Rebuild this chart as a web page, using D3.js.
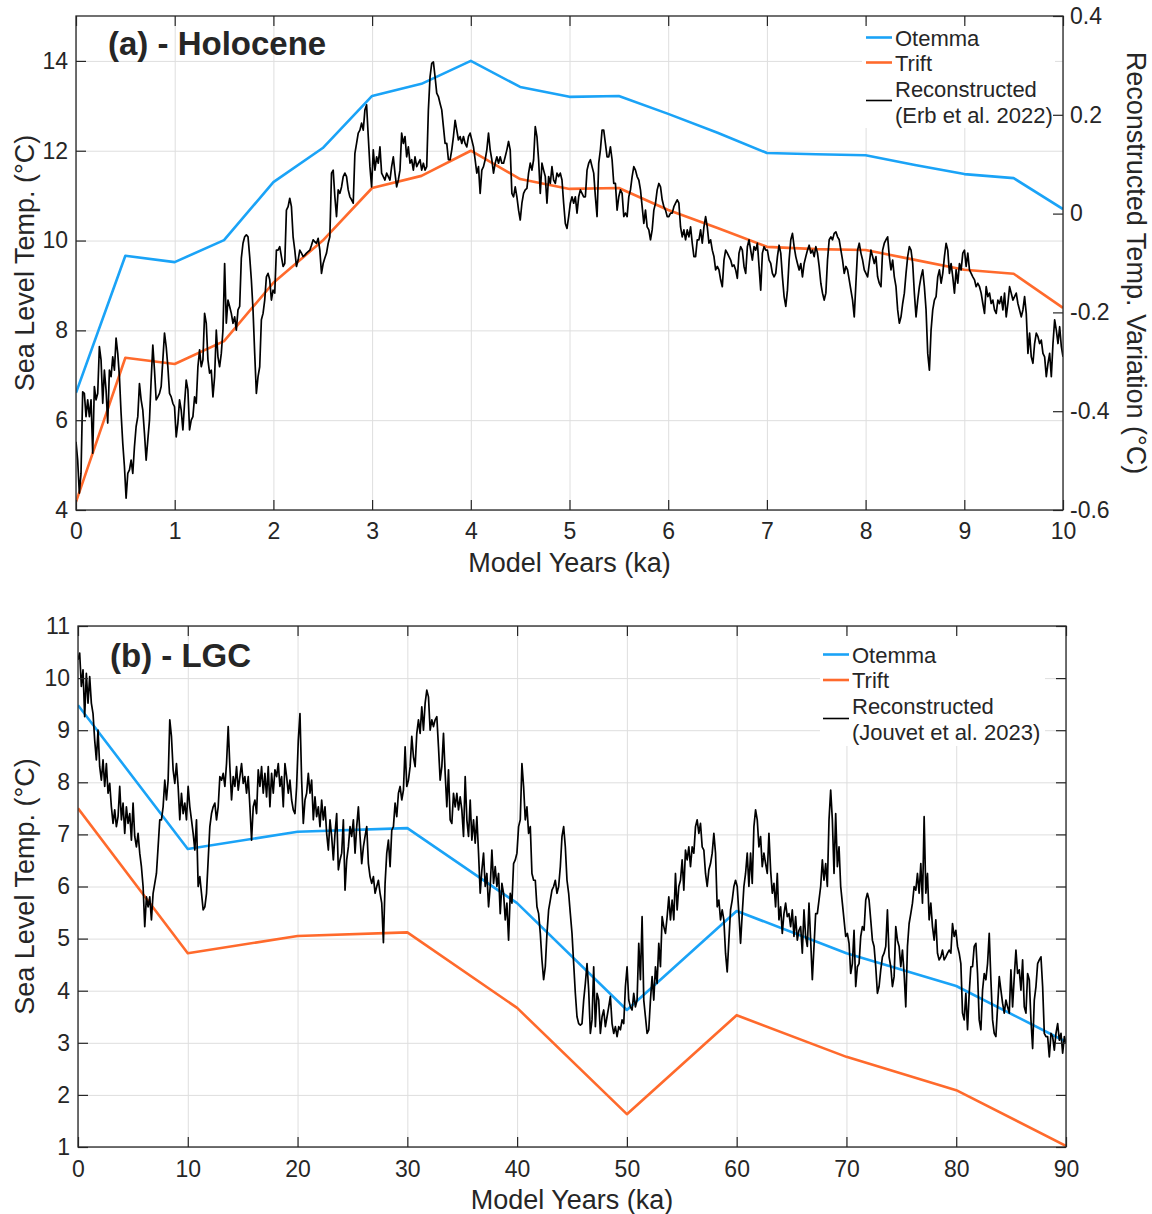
<!DOCTYPE html>
<html><head><meta charset="utf-8">
<script src="https://cdn.jsdelivr.net/npm/d3@7"></script>
<style>
body{margin:0;background:#fff}
text{font-family:"Liberation Sans",Arial,sans-serif;fill:#262626}
</style>
</head><body>
<svg id="c" width="1152" height="1214" xmlns="http://www.w3.org/2000/svg"></svg>
<script>
// ---------------- DATA ----------------
// (a) Holocene
const holoModelYears = [0,0.5,1,1.5,2,2.5,3,3.5,4,4.5,5,5.5,6,6.5,7,7.5,8,8.5,9,9.5,10];
const holoOtemma = [6.61,9.66,9.52,10.01,11.30,12.06,13.22,13.49,14.0,13.42,13.2,13.22,12.82,12.4,11.95,11.92,11.9,11.68,11.48,11.39,10.7];
const holoTrift  = [4.18,7.39,7.25,7.76,9.06,10.0,11.17,11.44,12.0,11.37,11.15,11.17,10.68,10.28,9.86,9.81,9.79,9.57,9.35,9.26,8.5];
// Reconstructed temperature variation (°C, right axis), evenly sampled over 0–10 ka
const holoRecon = [
-0.462,-0.499,-0.566,-0.526,-0.361,-0.364,-0.411,-0.377,-0.411,-0.377,
-0.485,-0.350,-0.377,-0.364,-0.269,-0.296,-0.384,-0.317,-0.357,-0.424,
-0.317,-0.330,-0.290,-0.317,-0.252,-0.283,-0.330,-0.404,-0.465,-0.512,
-0.576,-0.526,-0.519,-0.499,-0.526,-0.472,-0.431,-0.411,-0.344,-0.377,
-0.398,-0.445,-0.499,-0.458,-0.418,-0.337,-0.266,-0.317,-0.377,-0.371,
-0.364,-0.350,-0.296,-0.242,-0.269,-0.310,-0.364,-0.371,-0.384,-0.391,
-0.452,-0.424,-0.377,-0.398,-0.438,-0.384,-0.337,-0.357,-0.438,-0.418,
-0.411,-0.371,-0.384,-0.310,-0.276,-0.310,-0.296,-0.202,-0.222,-0.296,
-0.323,-0.317,-0.371,-0.330,-0.236,-0.290,-0.310,-0.283,-0.236,-0.101,
-0.222,-0.175,-0.188,-0.202,-0.222,-0.209,-0.236,-0.195,-0.188,-0.090,
-0.060,-0.047,-0.043,-0.047,-0.087,-0.134,-0.195,-0.283,-0.364,-0.330,
-0.310,-0.215,-0.202,-0.175,-0.128,-0.121,-0.134,-0.175,-0.155,-0.161,
-0.074,-0.074,-0.067,-0.087,-0.107,-0.101,0.007,0.014,0.031,0.014,
-0.047,-0.074,-0.107,-0.094,-0.074,-0.080,-0.087,-0.084,-0.080,-0.077,
-0.074,-0.064,-0.053,-0.057,-0.060,-0.050,-0.074,-0.121,-0.101,-0.090,
-0.080,-0.060,-0.047,0.082,0.088,0.034,-0.006,0.048,0.041,0.054,
0.075,0.082,0.075,0.048,0.034,0.028,0.021,0.122,0.142,0.163,
0.169,0.183,0.169,0.210,0.220,0.156,0.095,0.054,0.129,0.088,
0.115,0.102,0.135,0.082,0.075,0.068,0.082,0.075,0.068,0.095,
0.115,0.082,0.054,0.068,0.088,0.163,0.142,0.156,0.115,0.135,
0.102,0.109,0.088,0.115,0.095,0.102,0.109,0.088,0.102,0.088,
0.095,0.210,0.277,0.304,0.307,0.277,0.244,0.237,0.223,0.210,
0.176,0.142,0.142,0.109,0.109,0.129,0.156,0.189,0.169,0.149,
0.156,0.142,0.156,0.142,0.135,0.156,0.163,
0.149,0.135,0.109,0.082,0.095,0.041,0.088,0.095,0.109,0.129,
0.163,0.129,0.109,0.082,0.102,0.115,0.102,0.115,0.102,0.102,
0.115,0.129,0.146,0.129,0.041,0.034,0.054,0.034,0.007,-0.013,
0.021,0.041,0.048,0.051,0.082,0.102,0.088,0.109,0.176,0.156,
0.109,0.041,0.102,0.088,0.075,0.021,0.075,0.061,0.095,0.068,
0.061,0.082,0.075,0.082,0.068,0.021,-0.020,-0.030,-0.006,0.021,
0.034,0.021,0.034,0.001,0.034,0.048,0.041,0.034,0.034,0.088,
0.102,0.109,0.095,0.082,0.034,-0.006,0.102,0.129,0.169,0.169,
0.142,0.115,0.115,0.135,0.109,0.061,0.061,0.007,0.034,0.048,
0.041,-0.006,0.001,-0.006,0.034,0.048,0.075,0.095,0.088,0.075,
0.068,0.048,0.014,-0.020,0.007,-0.027,-0.033,-0.053,-0.033,0.007,
0.021,0.048,0.061,0.054,0.028,0.014,0.007,-0.006,-0.006,0.001,
0.001,0.014,0.021,0.028,0.021,-0.027,-0.047,-0.033,-0.053,-0.033,
-0.047,-0.027,-0.060,-0.087,-0.087,-0.053,-0.053,-0.033,-0.060,-0.027,
-0.006,-0.027,-0.060,-0.053,-0.074,-0.087,-0.114,-0.107,-0.114,-0.134,
-0.148,-0.094,-0.074,-0.080,-0.087,-0.094,-0.107,-0.104,-0.114,-0.131,
-0.080,-0.067,-0.074,-0.107,-0.121,-0.067,-0.053,-0.074,-0.094,-0.067,
-0.074,-0.060,-0.107,-0.155,-0.080,-0.067,-0.074,-0.074,-0.094,-0.101,
-0.121,-0.128,-0.121,-0.087,-0.064,-0.080,-0.128,-0.168,-0.188,-0.155,
-0.094,-0.053,-0.040,-0.067,-0.087,-0.101,-0.114,-0.101,-0.128,-0.101,
-0.087,-0.074,-0.064,-0.080,-0.074,-0.087,-0.067,-0.080,-0.107,-0.141,
-0.161,-0.175,-0.161,-0.094,-0.053,-0.047,-0.053,-0.040,-0.037,-0.047,
-0.053,-0.074,-0.094,-0.121,-0.107,-0.114,-0.134,-0.155,-0.175,-0.209,
-0.141,-0.074,-0.060,-0.080,
-0.094,-0.114,-0.121,-0.128,-0.101,-0.074,-0.087,-0.101,-0.087,-0.128,
-0.141,-0.148,-0.074,-0.060,-0.053,-0.047,-0.087,-0.114,-0.094,-0.128,
-0.148,-0.195,-0.222,-0.209,-0.182,-0.161,-0.121,-0.087,-0.067,-0.074,
-0.101,-0.161,-0.209,-0.175,-0.148,-0.128,-0.114,-0.148,-0.195,-0.283,
-0.317,-0.236,-0.195,-0.175,-0.168,-0.128,-0.114,-0.141,-0.121,-0.087,
-0.060,-0.074,-0.121,-0.101,-0.128,-0.161,-0.114,-0.141,-0.101,-0.114,
-0.080,-0.074,-0.107,-0.080,-0.114,-0.121,-0.128,-0.134,-0.148,-0.141,
-0.148,-0.161,-0.182,-0.202,-0.148,-0.168,-0.161,-0.182,-0.175,-0.195,
-0.202,-0.175,-0.182,-0.168,-0.195,-0.161,-0.209,-0.182,-0.148,-0.161,
-0.175,-0.168,-0.161,-0.182,-0.195,-0.209,-0.195,-0.168,-0.202,-0.283,
-0.242,-0.290,-0.303,-0.263,-0.242,-0.249,-0.263,-0.256,-0.283,-0.290,
-0.330,-0.303,-0.283,-0.330,-0.263,-0.215,-0.236,-0.263,-0.229,-0.269,
-0.290];
const holoXTicks = [0,1,2,3,4,5,6,7,8,9,10];
const holoYTicks = [4,6,8,10,12,14];
const holoY2Ticks = [-0.6,-0.4,-0.2,0,0.2,0.4];
const holoLegend = ["Otemma","Trift","Reconstructed","(Erb et al. 2022)"];

// (b) LGC
const lgcModelYears = [0,10,20,30,40,50,60,70,80,90];
const lgcOtemma = [9.48,6.72,7.05,7.12,5.68,3.63,5.53,4.72,4.09,3.02];
const lgcTrift  = [7.5,4.72,5.05,5.12,3.67,1.63,3.53,2.73,2.09,1.02];
// Reconstructed sea level temperature (°C), evenly sampled over 0–90 ka
const lgcRecon = [
10.35,10.48,9.84,10.16,9.26,10.09,9.52,10.03,9.52,9.32,
8.81,8.43,9.00,8.30,8.04,8.43,7.92,8.36,7.79,7.98,
7.53,7.21,7.47,7.15,7.34,7.92,7.28,7.60,7.02,7.53,
7.21,7.40,6.89,7.60,6.96,6.76,7.02,6.64,6.38,6.00,
5.23,5.80,5.61,5.80,5.36,5.87,6.06,6.25,6.76,7.28,
7.28,7.53,8.04,7.66,8.04,9.20,8.88,8.24,7.98,8.36,
7.92,7.28,7.79,7.40,7.60,7.28,7.92,7.53,7.28,7.02,
6.70,7.28,6.00,6.19,5.87,5.55,5.61,5.87,6.51,7.15,
7.40,7.53,7.60,7.28,7.53,8.11,8.04,8.17,7.92,8.36,
9.07,8.30,7.66,8.11,7.92,8.30,7.85,8.11,8.36,7.98,
8.11,7.79,8.11,7.53,6.89,7.53,7.66,7.40,8.24,7.92,
8.30,7.79,8.17,7.72,8.30,7.53,8.17,7.79,8.24,8.11,
8.36,7.92,8.11,7.53,8.36,8.11,7.79,8.04,7.66,7.47,
7.40,7.92,8.81,9.32,8.04,7.21,7.66,7.79,8.17,7.79,
8.04,7.28,7.72,7.34,7.53,7.15,7.66,7.28,7.53,7.02,
6.70,7.28,6.96,6.51,7.02,7.40,6.32,6.51,6.64,7.28,
5.93,6.51,6.76,7.15,6.96,7.28,6.64,7.15,7.53,6.96,
6.44,6.76,6.96,7.15,6.44,6.19,6.06,6.19,5.87,6.00,
6.12,5.87,5.68,4.92,6.06,6.64,6.89,6.38,7.08,7.15,
7.60,7.34,7.79,7.92,
7.66,7.85,8.68,7.92,8.04,8.30,8.88,8.49,8.30,8.94,
9.20,8.94,9.45,9.00,9.52,9.77,9.64,9.00,9.20,9.07,
9.20,9.26,8.68,8.04,8.30,8.94,8.17,7.53,8.24,7.28,
7.21,7.79,7.53,7.79,7.47,7.72,7.47,6.96,8.11,7.28,
6.96,7.66,6.89,7.28,6.83,7.34,6.64,5.87,6.32,6.64,
6.00,6.25,5.61,6.00,6.70,6.06,6.38,6.00,6.25,5.48,
6.06,5.87,5.36,5.68,4.97,5.87,5.68,6.44,6.51,6.64,
7.15,7.28,8.36,7.92,7.28,7.53,7.02,7.15,6.25,6.12,
6.12,5.61,5.48,5.10,4.59,4.21,4.46,5.10,5.55,5.74,
5.93,6.00,6.12,5.87,6.00,6.38,6.96,7.15,6.76,6.12,
5.87,5.48,5.10,4.52,3.95,3.50,3.37,3.34,3.37,3.82,
4.14,4.52,4.01,3.18,3.44,4.46,3.31,3.95,3.82,3.18,
3.50,3.63,3.31,3.50,3.69,3.89,3.37,3.18,3.31,3.12,
3.31,3.25,3.44,3.37,4.08,4.46,3.82,3.69,3.63,3.95,
3.69,3.82,4.91,4.21,5.42,3.82,3.50,3.18,3.25,3.82,
4.27,3.82,4.46,4.14,4.91,4.46,5.42,5.23,5.10,5.42,
5.80,5.36,5.74,5.36,6.25,5.55,6.00,6.12,6.51,5.93,
6.70,6.51,6.76,6.38,6.76,6.64,7.15,7.28,7.02,7.21,
6.76,6.70,6.25,6.00,6.32,6.44,6.64,7.02,6.64,5.61,
5.74,5.36,5.55,5.36,4.72,4.36,4.97,5.55,5.74,6.00,
6.12,6.00,5.48,4.91,5.48,6.00,6.25,6.64,6.00,6.64,
6.06,7.15,7.47,7.28,6.76,6.96,6.38,6.64,6.44,6.25,
7.02,6.32,5.87,6.06,5.61,6.25,5.36,5.61,5.10,5.48,
5.68,5.42,5.48,5.23,5.55,5.04,5.42,4.97,5.16,5.23,
4.72,5.55,5.04,4.85,5.68,4.97,4.21,4.85,5.48,5.48,
5.74,6.00,6.51,6.12,6.44,6.00,7.28,7.85,7.28,6.25,
7.40,6.38,6.76,6.00,5.68,5.36,5.04,5.10,4.91,4.33,
4.52,5.16,4.08,4.46,4.52,5.04,5.23,5.16,5.74,5.87,
5.74,5.36,4.97,4.85,4.46,3.95,4.08,4.40,4.65,4.72,
4.85,5.55,4.65,4.46,4.08,4.27,5.23,4.97,4.85,4.46,
4.78,4.33,3.69,4.85,5.29,5.48,5.68,6.00,5.93,6.25,
5.87,6.44,5.68,7.34,5.87,6.25,5.36,5.68,5.23,4.97,
5.36,4.72,4.59,4.65,4.78,4.59,4.65,4.72,4.78,4.72,
5.29,5.04,5.16,4.85,4.72,4.52,3.57,3.44,3.95,3.25,
3.95,4.46,4.46,4.85,4.91,4.33,3.44,3.25,4.01,4.33,
4.21,4.52,5.10,4.21,3.44,3.18,3.12,3.69,4.27,4.01,
3.76,3.57,3.82,3.69,3.57,4.40,3.69,4.27,4.78,4.33,
4.40,4.01,4.59,3.69,3.57,4.33,4.21,3.44,2.89,3.82,
4.08,4.52,4.59,4.65,4.08,3.18,3.12,3.12,2.73,3.18,
3.12,2.86,3.18,3.37,3.05,3.18,2.80,3.12,2.99];
const lgcXTicks = [0,10,20,30,40,50,60,70,80,90];
const lgcYTicks = [1,2,3,4,5,6,7,8,9,10,11];
const lgcLegend = ["Otemma","Trift","Reconstructed","(Jouvet et al. 2023)"];

// ---------------- STYLE ----------------
const BLUE = "#1aa3f7", ORANGE = "#ff6a2c", BLACK = "#000000";
const AXIS = "#262626", GRID = "#dedede";
const TICK_FS = 23, TITLE_FS = 27, LEG_FS = 22;

const svg = d3.select("#c");
svg.append("rect").attr("width",1152).attr("height",1214).attr("fill","#fff");

function fmt(d){ return String(+d.toFixed(2)); }

function drawPanel(p) {
  const g = svg.append("g");
  const W = p.right - p.left, H = p.bottom - p.top;
  const x = d3.scaleLinear().domain(p.xDomain).range([p.left, p.right]);
  const y = d3.scaleLinear().domain(p.yDomain).range([p.bottom, p.top]);
  const y2 = p.y2Domain ? d3.scaleLinear().domain(p.y2Domain).range([p.bottom, p.top]) : null;

  // grid
  g.append("g").attr("transform",`translate(0,${p.bottom})`)
    .call(d3.axisBottom(x).tickValues(p.xTicks).tickSize(-H).tickFormat(""))
    .call(a => { a.select(".domain").remove(); a.selectAll("line").attr("stroke",GRID).attr("stroke-width",1); });
  g.append("g").attr("transform",`translate(${p.left},0)`)
    .call(d3.axisLeft(y).tickValues(p.yTicks).tickSize(-W).tickFormat(""))
    .call(a => { a.select(".domain").remove(); a.selectAll("line").attr("stroke",GRID).attr("stroke-width",1); });

  // clip
  svg.append("clipPath").attr("id", p.id+"clip").append("rect")
    .attr("x",p.left).attr("y",p.top).attr("width",W).attr("height",H);
  const plot = g.append("g").attr("clip-path",`url(#${p.id}clip)`);

  const line = (ys) => d3.line().x(d => x(d[0])).y(d => ys(d[1]));
  const zip = (xs, vs) => xs.map((v,i) => [v, vs[i]]);

  plot.append("path").datum(zip(p.years, p.otemma)).attr("d", line(y))
    .attr("fill","none").attr("stroke",BLUE).attr("stroke-width",2.6).attr("stroke-linejoin","round");
  plot.append("path").datum(zip(p.years, p.trift)).attr("d", line(y))
    .attr("fill","none").attr("stroke",ORANGE).attr("stroke-width",2.6).attr("stroke-linejoin","round");
  const n = p.recon.length;
  const reconYears = p.recon.map((_, i) => p.xDomain[0] + i * (p.xDomain[1]-p.xDomain[0]) / (n-1));
  plot.append("path").datum(zip(reconYears, p.recon)).attr("d", line(p.reconOnRight ? y2 : y))
    .attr("fill","none").attr("stroke",BLACK).attr("stroke-width",1.7).attr("stroke-linejoin","round");

  // legend
  const L = p.legend;
  g.append("rect").attr("x",L.x).attr("y",L.y).attr("width",L.w).attr("height",L.h).attr("fill","#fff");
  const lg = g.append("g");
  const entries = [
    {c:BLUE, w:2.6, ly:L.ly[0]},
    {c:ORANGE, w:2.6, ly:L.ly[1]},
    {c:BLACK, w:1.6, ly:L.ly[2]}
  ];
  entries.forEach(e => lg.append("line").attr("x1",L.lx0).attr("x2",L.lx1).attr("y1",e.ly).attr("y2",e.ly)
    .attr("stroke",e.c).attr("stroke-width",e.w));
  p.legendText.forEach((t,i) => lg.append("text").attr("x",L.tx).attr("y",L.ty[i])
    .attr("font-size",LEG_FS).text(t));

  // axes (inward ticks)
  const styleAxis = a => { a.select(".domain").remove(); a.selectAll("line").attr("stroke",AXIS).attr("stroke-width",1.2);
    a.selectAll("text").attr("font-size",TICK_FS).attr("fill",AXIS).attr("font-family","Liberation Sans, Arial, sans-serif"); };
  g.append("g").attr("transform",`translate(0,${p.bottom})`)
    .call(d3.axisBottom(x).tickValues(p.xTicks).tickSize(-10).tickPadding(p.xPad).tickFormat(fmt)).call(styleAxis);
  g.append("g").attr("transform",`translate(0,${p.top})`)
    .call(d3.axisTop(x).tickValues(p.xTicks).tickSize(-10).tickFormat("")).call(styleAxis);
  g.append("g").attr("transform",`translate(${p.left},0)`)
    .call(d3.axisLeft(y).tickValues(p.yTicks).tickSize(-10).tickPadding(8).tickFormat(fmt)).call(styleAxis);
  if (y2) {
    g.append("g").attr("transform",`translate(${p.right},0)`)
      .call(d3.axisRight(y2).tickValues(p.y2Ticks).tickSize(-10).tickPadding(7).tickFormat(fmt)).call(styleAxis);
  } else {
    g.append("g").attr("transform",`translate(${p.right},0)`)
      .call(d3.axisRight(y).tickValues(p.yTicks).tickSize(-10).tickFormat("")).call(styleAxis);
  }
  // box
  g.append("rect").attr("x",p.left).attr("y",p.top).attr("width",W).attr("height",H)
    .attr("fill","none").attr("stroke",AXIS).attr("stroke-width",1.3);

  // titles
  g.append("text").attr("x",(p.left+p.right)/2).attr("y",p.bottom+62).attr("text-anchor","middle")
    .attr("font-size",TITLE_FS).text("Model Years (ka)");
  g.append("text").attr("transform",`translate(34,${(p.top+p.bottom)/2}) rotate(-90)`).attr("text-anchor","middle")
    .attr("font-size",TITLE_FS).text("Sea Level Temp. (°C)");
  if (y2) {
    g.append("text").attr("transform",`translate(1127,${(p.top+p.bottom)/2}) rotate(90)`).attr("text-anchor","middle")
      .attr("font-size",TITLE_FS).text("Reconstructed Temp. Variation (°C)");
  }
  g.append("text").attr("x",p.titleX).attr("y",p.titleY).attr("font-family","Lato, 'Open Sans', sans-serif")
    .attr("font-weight",700).attr("font-size",33).attr("fill","#000").text(p.title);
}

drawPanel({
  id:"a", left:76, right:1063, top:16, bottom:510,
  xDomain:[0,10], yDomain:[4,15], y2Domain:[-0.6,0.4],
  xTicks:holoXTicks, yTicks:holoYTicks, y2Ticks:holoY2Ticks, xPad:13,
  years:holoModelYears, otemma:holoOtemma, trift:holoTrift, recon:holoRecon, reconOnRight:true,
  legendText:holoLegend,
  legend:{x:862,y:22,w:193,h:106, lx0:866, lx1:892, ly:[37.5,62.5,100.5], tx:895, ty:[46,71,97,123]},
  title:"(a) - Holocene", titleX:108, titleY:55
});

drawPanel({
  id:"b", left:78, right:1066, top:626, bottom:1147,
  xDomain:[0,90], yDomain:[1,11],
  xTicks:lgcXTicks, yTicks:lgcYTicks, xPad:14,
  years:lgcModelYears, otemma:lgcOtemma, trift:lgcTrift, recon:lgcRecon, reconOnRight:false,
  legendText:lgcLegend,
  legend:{x:820,y:632,w:225,h:114, lx0:823, lx1:849, ly:[654.5,680,718.5], tx:852, ty:[663,688,714,740]},
  title:"(b) - LGC", titleX:110, titleY:667
});
</script>
</body></html>
